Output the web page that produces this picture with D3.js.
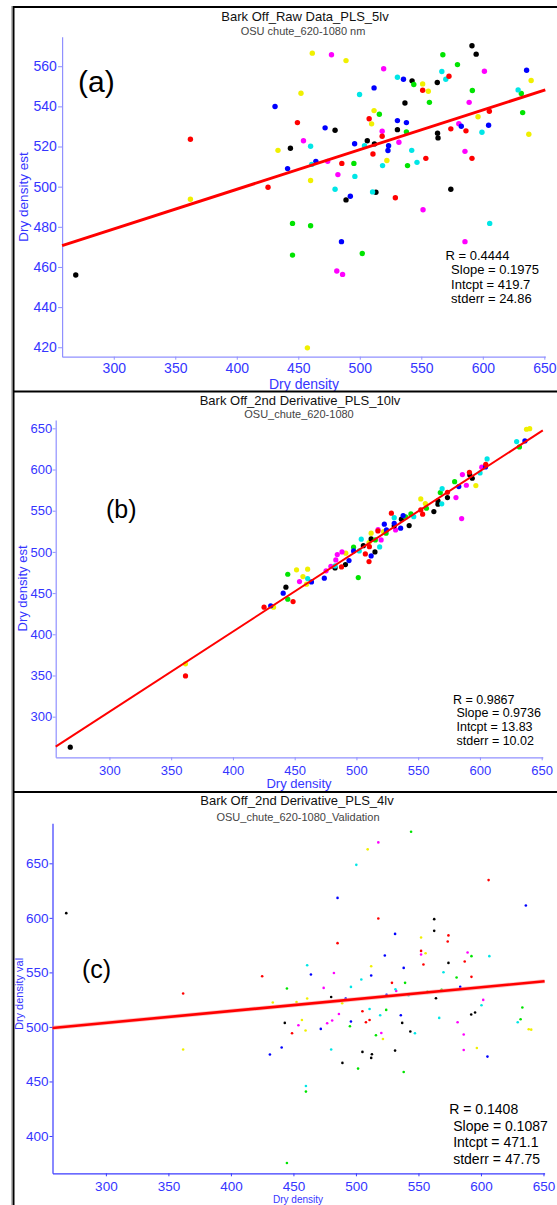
<!DOCTYPE html>
<html><head><meta charset="utf-8">
<script src="https://cdn.jsdelivr.net/npm/d3@7"></script>
<style>body{margin:0;background:#fff}svg{display:block;font-family:Arial,"Liberation Sans",sans-serif}</style>
</head><body>
<svg id="c" width="557" height="1205"></svg>
<script>
// ---------------- DATA ----------------
const colorNames = ["yellow","magenta","black","green","blue","cyan","red"];
const xTicks = [300,350,400,450,500,550,600,650];

// Panel (a) : Raw Data PLS 5lv  [dry density, estimate]
const aYellow = [[461.4,566.5],[488.8,562.8],[551.1,551.2],[555.7,547.5],[639.3,552.9],[452.2,546.5],[511.6,537.9],[509.6,531.3],[596.1,534.8],[433.5,518.1],[460,503.1],[362.3,493.7],[522,513],[637.4,526.1],[457.4,419.7]];
const aMagenta = [[477,565.7],[601.3,557.5],[519.4,558.7],[588.9,542],[580.5,531.4],[518.2,527.6],[454.2,522.9],[473.9,512.6],[482.2,506],[531.8,522.1],[585.5,517.6],[551.4,488.5],[585.5,472.6],[481.3,458],[486,456.3]];
const aBlack = [[591.2,570.2],[594.6,566],[542.5,552.7],[563,551.9],[536.7,541.7],[479.9,528.1],[443.6,519.1],[506.1,522.9],[511.9,521.3],[530.6,528.4],[563.2,526.6],[563.6,524.3],[488.8,493.4],[513.1,497.2],[574,498.7],[269.1,456]];
const aGreen = [[567.5,565.7],[579.4,560.8],[543.9,550.9],[591.5,547.9],[556.6,542],[631.3,546.4],[515.9,536.1],[632.4,536.9],[537.9,527.3],[495.2,511.6],[538.8,510.5],[445.3,481.7],[460,480.5],[445.3,465.9],[502,466.7]];
const aBlue = [[635.6,558],[535.5,553.5],[511.6,549.2],[431.1,539.9],[530.6,532.9],[537.9,531.9],[471.8,529.3],[582.5,530.1],[604.7,530.6],[495.8,521.4],[523.4,520.4],[522.9,518],[441.3,509],[464.3,512.6],[492.3,495.2],[485.1,472.6]];
const aCyan = [[530.6,554.5],[566.7,557.4],[569.9,553.5],[499.8,545.9],[628.7,548.2],[460,520.1],[460.9,511.1],[479.9,498.7],[496,505.1],[503.8,520.4],[518.5,510.5],[510.4,497.4],[542.2,518.1],[546.5,512.1],[599.3,527.1],[605.6,481.7]];
const aRed = [[551.1,548],[572.5,555],[605.3,537.6],[507.6,533.8],[449.3,531.9],[362.3,523.6],[425.4,499.7],[485.4,511.6],[510.7,516.3],[518.2,525.1],[528.9,494.5],[553.7,514.1],[574,528.8],[586.3,527.8],[591.2,514.1]];
const aYTicks = [420,440,460,480,500,520,540,560];
const aFit = {slope:0.1975, intcpt:419.7};
const aStats = ["R = 0.4444"," Slope = 0.1975"," Intcpt = 419.7"," stderr = 24.86"];

// Panel (b) : 2nd Derivative PLS 10lv
const bYellow = [[637.7,648.9],[640.3,649.6],[596.7,580.5],[552.1,564.3],[555.8,558.6],[522,524.6],[511.9,522.7],[510.2,511.3],[491.4,498.4],[460.5,479],[451.5,478.2],[456.7,470],[459.6,460.8],[432.9,432.9],[361.6,364.1]];
const bMagenta = [[601.5,602.8],[585.8,593.8],[589,580.9],[580.6,565.9],[585.2,540.4],[531.7,526.7],[517.5,527],[520,514.6],[484.5,496.8],[488.3,500],[479.3,482.6],[483.3,490.3],[475.4,477],[453.9,464]];
const bBlack = [[593.8,589.4],[591.8,593.4],[573.7,565.9],[566,561.9],[566,557.9],[562.7,548.9],[536.4,539.7],[530.6,531.6],[542.7,531.9],[511.9,515.8],[505.6,507.6],[515,500],[491.1,484.6],[482.7,480.6],[442.9,457.2],[268.3,263]];
const bGreen = [[632,627.4],[579.5,585.3],[567.9,572],[556.7,553],[544.1,546.1],[539.8,542.5],[524,522.7],[515.3,514.6],[497.7,505.7],[501.5,468.8],[444.4,472.9],[444.4,442.6]];
const bBlue = [[636.4,634.7],[604.5,603.2],[582.9,579.3],[537.8,544.1],[522.6,533.6],[530.6,534.8],[535.8,528.8],[524.3,526.7],[497.7,501.2],[511.9,495.1],[494,489.5],[474,468.1],[463.6,463.6],[440.7,449.9],[430.6,434.5]];
const bCyan = [[629.7,633.9],[605.8,612.9],[600.1,595.9],[569.4,576.8],[569.1,558.3],[546.4,542.8],[530.6,541.6],[503.9,515.4],[518.8,506.1],[502.3,501.2],[482.7,483],[460.5,467.6]];
const bRed = [[604.7,606.4],[591.5,596.7],[573.7,572.4],[552.1,551],[553.6,545.8],[528.3,547],[517.4,525.5],[510.5,506.4],[507.2,497.6],[510.2,488.3],[487.9,481.8],[448.7,439.7],[425.2,432.9],[361.6,349.5]];
const bYTicks = [300,350,400,450,500,550,600,650];
const bFit = {slope:0.9736, intcpt:13.83};
const bStats = ["R = 0.9867"," Slope = 0.9736"," Intcpt = 13.83"," stderr = 10.02"];

// Panel (c) : 2nd Derivative PLS 4lv, validation
const cYellow = [[509.4,662.8],[552.1,582],[361.8,479.3],[433.5,522.4],[452.5,522.9],[461,526],[489,521.7],[512.2,555.7],[555.7,567.6],[596.7,480.7],[638.2,497.9],[640.2,497.5],[456.8,506.4],[459.7,496.7],[521.6,489]];
const cMagenta = [[517.9,669.2],[474.2,535.8],[482.4,549.5],[532.2,533],[552.1,566.4],[589.3,568.3],[601.8,524.8],[581.3,504.3],[586.2,493],[586.2,478.9],[454,501.6],[477,503.4],[481,505.9],[486.4,511.9],[520.3,494.5]];
const cBlack = [[268.3,604.3],[562.6,598.8],[562.6,588.1],[480.2,527.5],[564,526.3],[574,558.7],[595.3,513.2],[592.2,511.4],[443.1,503.7],[489.2,467],[505.2,477.1],[512.8,475],[512.2,471.6],[531.3,478.3],[537,503.7],[543.5,495.8]];
const cGreen = [[544.1,678.9],[444.8,535.2],[539.3,540.4],[557.2,532.1],[580.5,545.3],[568.5,534],[592.4,564.9],[633.1,517.8],[631.7,507.1],[495.2,500.6],[524.2,515.6],[516,492.4],[501.7,461.8],[538.2,458.7],[460,440.7],[444.8,375.2]];
const cBlue = [[485.3,618.3],[635.9,611.4],[531.3,585.3],[464,548.1],[491.8,526],[512.2,547.2],[523.1,565.5],[524.5,529.4],[538.2,554.1],[583.4,536.7],[605.2,472.8],[440.6,481.1],[431.2,474.7],[471.9,498.2],[496,505],[535.9,510.7]];
const cCyan = [[500.3,648.6],[461,556.6],[496,536.7],[504.3,543.5],[531.6,534.6],[542.1,529.1],[570,550.2],[606.7,564.9],[600.4,519.9],[566.6,508.3],[629.4,504.3],[480.2,479.3],[510.9,516.5],[519.4,510.7],[547.2,494.2],[460,445.9]];
const cRed = [[606.1,634.6],[517.9,599.4],[574,583.9],[573.4,578.3],[485.3,576.8],[425,546.5],[361.8,530.6],[528.8,540.4],[552.1,569.7],[554,557.2],[587,560],[592.4,545.9],[448.9,494.2],[505.2,514.4],[510.9,506.4],[508,504.3]];
const cYTicks = [400,450,500,550,600,650];
const cFit = {slope:0.1087, intcpt:471.1};
const cStats = ["R = 0.1408"," Slope = 0.1087"," Intcpt = 471.1"," stderr = 47.75"];

// ---------------- STYLE ----------------
const palette = {yellow:"#f0f000", magenta:"#ff00ff", black:"#000000", green:"#00e400", blue:"#0000ff", cyan:"#00e6e6", red:"#ff0000"};
const svg = d3.select("#c");

const panels = [
 {groups:{yellow:aYellow,magenta:aMagenta,black:aBlack,green:aGreen,blue:aBlue,cyan:aCyan,red:aRed},
  yTicks:aYTicks, fit:aFit, stats:aStats, title:"Bark Off_Raw Data_PLS_5lv", sub:"OSU chute_620-1080 nm",
  xd:[258,650.8], xr:[62.1,545.3], yd:[415.3,574.7], yr:[356.7,36.7],
  axisCol:"#9090ff", tickCol:"#3535ff", tickFont:14, xPad:3.6, yPad:1.3, ySize:4,
  r:2.7, lw:3, halo:false,
  titleX:305, titleY:20.5, subX:303, subY:35, titleFont:13, subFont:11,
  tag:"(a)", tagX:78, tagY:92, tagFont:30,
  statX:[445.5,447.5,447.5,447.5], statY:260, statDy:14.4, statFont:13,
  xlab:"Dry density", xlabX:304, xlabY:389, xlabFont:14, ylab:"Dry density est", ylabX:23, ylabFont:13.5, ylabY:197},
 {groups:{yellow:bYellow,magenta:bMagenta,black:bBlack,green:bGreen,blue:bBlue,cyan:bCyan,red:bRed},
  yTicks:bYTicks, fit:bFit, stats:bStats, title:"Bark Off_2nd Derivative_PLS_10lv", sub:"OSU_chute_620-1080",
  xd:[256.5,650.9], xr:[55.7,542.8], yd:[250.7,660.1], yr:[757.3,420],
  axisCol:"#9090ff", tickCol:"#3535ff", tickFont:13, xPad:5, yPad:0.5, ySize:3,
  r:2.6, lw:2, halo:false,
  titleX:300, titleY:404.5, subX:299, subY:418, titleFont:13, subFont:11,
  tag:"(b)", tagX:106, tagY:518, tagFont:25,
  statX:[453,453,453,453], statY:703.5, statDy:13.7, statFont:12.5,
  xlab:"Dry density", xlabX:299, xlabY:787.5, xlabFont:13, ylab:"Dry density est", ylabX:22, ylabFont:13, ylabY:588.5},
 {groups:{yellow:cYellow,magenta:cMagenta,black:cBlack,green:cGreen,blue:cBlue,cyan:cCyan,red:cRed},
  yTicks:cYTicks, fit:cFit, stats:cStats, title:"Bark Off_2nd Derivative_PLS_4lv", sub:"OSU_chute_620-1080_Validation",
  xd:[257.3,650.9], xr:[52.5,544.6], yd:[365.8,686.7], yr:[1173.3,823.3],
  axisCol:"#3a3aff", tickCol:"#3535ff", tickFont:13.5, xPad:5.5, yPad:1, ySize:3,
  r:1.3, lw:2.6, halo:true,
  titleX:297, titleY:804.5, subX:298, subY:820.5, titleFont:13, subFont:11,
  tag:"(c)", tagX:82, tagY:978, tagFont:25,
  statX:[449.3,449.3,449.3,449.3], statY:1114, statDy:16.5, statFont:14,
  xlab:"Dry density", xlabX:298, xlabY:1202.5, xlabFont:10, ylab:"Dry density val", ylabX:19, ylabFont:11, ylabY:994}
];

panels.forEach(p => {
  const g = svg.append("g");
  const x = d3.scaleLinear().domain(p.xd).range(p.xr);
  const y = d3.scaleLinear().domain(p.yd).range(p.yr);

  // titles
  g.append("text").attr("x",p.titleX).attr("y",p.titleY).attr("text-anchor","middle")
    .attr("font-size",p.titleFont).attr("fill","#111").text(p.title);
  g.append("text").attr("x",p.subX).attr("y",p.subY).attr("text-anchor","middle")
    .attr("font-size",p.subFont).attr("fill","#444").text(p.sub);

  // axes
  const ya = g.append("g").attr("transform",`translate(${p.xr[0]},0)`)
    .call(d3.axisLeft(y).tickValues(p.yTicks).tickSize(p.ySize).tickSizeOuter(0).tickPadding(p.yPad));
  const xa = g.append("g").attr("transform",`translate(0,${p.yr[0]})`)
    .call(d3.axisBottom(x).tickValues(xTicks).tickSize(3).tickSizeOuter(0).tickPadding(p.xPad));
  [ya,xa].forEach(a => {
    a.select(".domain").attr("stroke",p.axisCol).attr("stroke-width",1.2);
    a.selectAll(".tick line").attr("stroke",p.axisCol);
    a.selectAll(".tick text").attr("fill",p.tickCol).attr("font-size",p.tickFont)
      .attr("font-family","Arial, 'Liberation Sans', sans-serif");
  });

  // axis labels
  g.append("text").attr("x",p.xlabX).attr("y",p.xlabY).attr("text-anchor","middle")
    .attr("font-size",p.xlabFont).attr("fill","#3535ff").text(p.xlab);
  g.append("text").attr("transform",`translate(${p.ylabX},${p.ylabY}) rotate(-90)`)
    .attr("text-anchor","middle").attr("dy","0.35em")
    .attr("font-size",p.ylabFont).attr("fill","#3535ff").text(p.ylab);

  // points
  colorNames.forEach(cn => {
    g.append("g").selectAll("circle").data(p.groups[cn]).join("circle")
      .attr("cx",d=>x(d[0])).attr("cy",d=>y(d[1])).attr("r",p.r).attr("fill",palette[cn]);
  });

  // fit line
  const fitPts = p.xd.map(v => [v, p.fit.intcpt + p.fit.slope*v]);
  const line = d3.line().x(d=>x(d[0])).y(d=>y(d[1]));
  if (p.halo) g.append("path").attr("d",line(fitPts)).attr("stroke","#ff9a9a").attr("stroke-opacity",0.6)
      .attr("stroke-width",p.lw+1.6).attr("fill","none");
  g.append("path").attr("d",line(fitPts)).attr("stroke","#ff0000").attr("stroke-width",p.lw).attr("fill","none");

  // panel tag
  g.append("text").attr("x",p.tagX).attr("y",p.tagY).attr("font-size",p.tagFont).attr("fill","#000").text(p.tag);

  // stats
  p.stats.forEach((s,i) => {
    g.append("text").attr("x",p.statX[i]).attr("y",p.statY+i*p.statDy).attr("font-size",p.statFont)
      .attr("fill","#000").attr("xml:space","preserve").style("white-space","pre").text(s);
  });
});

// window frames
const frame = svg.append("g").attr("stroke","#000").attr("stroke-width",2);
frame.append("line").attr("x1",13).attr("x2",557).attr("y1",7).attr("y2",7);
frame.append("line").attr("x1",13.5).attr("x2",13.5).attr("y1",6).attr("y2",1205);
frame.append("line").attr("x1",13).attr("x2",557).attr("y1",391.5).attr("y2",391.5);
frame.append("line").attr("x1",13).attr("x2",557).attr("y1",792).attr("y2",792);
svg.append("line").attr("x1",11.5).attr("x2",11.5).attr("y1",6).attr("y2",1205).attr("stroke","#bbb").attr("stroke-width",1);
</script>
</body></html>
